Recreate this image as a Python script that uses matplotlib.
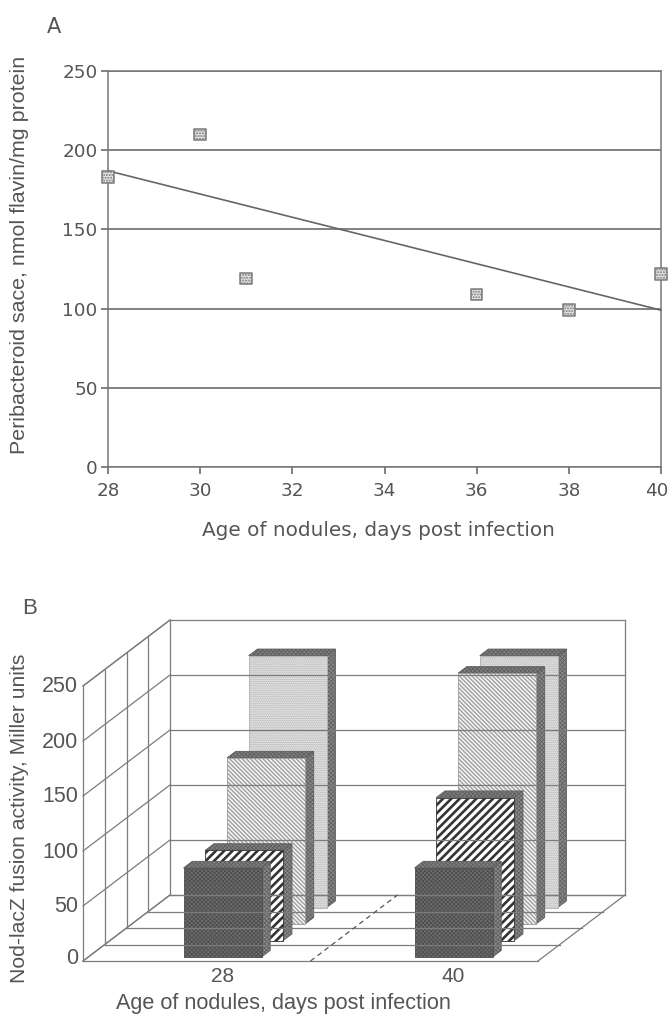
import matplotlib
matplotlib.use('Agg')
import matplotlib.pyplot as plt
from matplotlib.patches import Polygon
from matplotlib.lines import Line2D
from matplotlib.transforms import ScaledTranslation

# ---- data panel A
days_a = [28, 30, 31, 36, 38, 40]
flavin = [183, 210, 119, 109, 99, 122]
trend_x = [28, 40]
trend_y = [187, 99]
ticks_a_x = [28, 30, 32, 34, 36, 38, 40]
ticks_a_y = [0, 50, 100, 150, 200, 250]

# ---- data panel B
ages_b = ['28', '40']
series_28 = [81, 82, 151, 229]
series_40 = [81, 130, 228, 229]
ticks_b = [0, 50, 100, 150, 200, 250]

W, H = 670, 1015
GREY = '#5f5f5f'
TXT = '#555555'
fig = plt.figure(figsize=(W / 100, H / 100), dpi=100, facecolor='white')

# ---------------- Panel A
L, R, T, B = 108, 661, 71, 467
ax = fig.add_axes([L / W, 1 - B / H, (R - L) / W, (B - T) / H])
ax.set_xlim(28, 40)
ax.set_ylim(0, 250)
ax.set_xticks(ticks_a_x)
ax.set_yticks(ticks_a_y)
ax.tick_params(axis='both', length=5, width=1.1, color=GREY, labelcolor=TXT, labelsize=13.2)
ax.tick_params(axis='y', pad=2.5)
ax.tick_params(axis='x', pad=6)
for lab in ax.get_xticklabels() + ax.get_yticklabels():
    lab.set_family('DejaVu Sans')
last = ax.get_xticklabels()[-1]
last.set_transform(last.get_transform() + ScaledTranslation(-4 / 100, 0, fig.dpi_scale_trans))
ax.grid(axis='y', color=GREY, lw=1.1)
ax.set_axisbelow(True)
for s in ax.spines.values():
    s.set_color('#777777')
    s.set_linewidth(1.1)
ax.plot(trend_x, trend_y, color='#666666', lw=1.2, zorder=3, clip_on=False)
ax.scatter(days_a, flavin, marker='s', s=70, facecolor='#e4e4e4', edgecolor='#7a7a7a',
           hatch='......', linewidth=1.1, zorder=4, clip_on=False)
fig.text(378 / W, 1 - 531 / H, 'Age of nodules, days post infection', ha='center', va='center',
         family='DejaVu Sans', fontsize=14.4, color=TXT)
fig.text(20 / W, 1 - 255 / H, 'Peribacteroid sace, nmol flavin/mg protein', rotation=90, ha='center',
         va='center', family='Liberation Sans', fontsize=15.4, color=TXT)
fig.text(54 / W, 1 - 27 / H, 'A', ha='center', va='center', family='DejaVu Sans', fontsize=15, color=TXT)

# ---------------- Panel B: oblique projection of (category pos, depth, value)
bx = fig.add_axes([0, 0, 1, 1])
bx.set_xlim(0, W)
bx.set_ylim(H, 0)
bx.axis('off')
bx.patch.set_alpha(0)

X0, XW = 83, 455        # floor front-left, floor width
Y0 = 961                # floor front baseline
DX, DY = 87, -66        # total depth offset
PX = 1.1                # px per unit
CAT_C = [217.3, 448.3]  # group centre at depth 0
BAR_W = 78
SLOT = 0.25
BAR_D0, BAR_D = 0.06, 0.1


def proj(x, d, v):
    return (x + DX * d, Y0 + DY * d - PX * v)


class HPoly(Polygon):
    def __init__(self, *a, hlw=1.0, **k):
        self.hlw = hlw
        with plt.rc_context({'hatch.linewidth': hlw}):
            super().__init__(*a, **k)

    def draw(self, renderer):
        with plt.rc_context({'hatch.linewidth': self.hlw}):
            super().draw(renderer)


LC = '#7c7c7c'
def ln(p, q, **k):
    k.setdefault('color', LC)
    k.setdefault('lw', 0.9)
    bx.add_line(Line2D([p[0], q[0]], [p[1], q[1]], **k))


XR = X0 + XW
TOP = 250
for v in ticks_b:
    ln(proj(X0, 0, v), proj(X0, 1, v))
    ln(proj(X0, 1, v), proj(XR, 1, v))
    bx.text(78, proj(X0, 0, v)[1] + (-3 if v == 0 else 1), str(v), ha='right', va='center',
            family='Liberation Sans', fontsize=15.5, color=TXT)
for d in [0, .25, .5, .75, 1]:
    ln(proj(X0, d, 0), proj(X0, d, TOP))
    ln(proj(X0, d, 0), proj(XR, d, 0))
ln(proj(X0, 0, TOP), proj(X0, 1, TOP))
ln(proj(X0, 0, 0), proj(X0, 1, 0))
ln(proj(XR, 0, 0), proj(XR, 1, 0))
ln(proj(XR, 1, 0), proj(XR, 1, TOP))
ln(proj(X0 + XW / 2, 0, 0), proj(X0 + XW / 2, 1, 0), ls=(0, (4, 3)), color='#555555')

STYLES = [
    dict(facecolor='#707070', edgecolor='#4f4f4f', hatch='xxxxxxxx', hlw=0.7),
    dict(facecolor='white', edgecolor='#333333', hatch='////', hlw=1.9),
    dict(facecolor='#f2f2f2', edgecolor='#9a9a9a', hatch='\\' * 8, hlw=0.9),
    dict(facecolor='#e6e6e6', edgecolor='#b0b0b0', hatch='.........', hlw=0.7),
]
TOPSTY = dict(facecolor='#808080', edgecolor='#5f5f5f', hatch='xxxxxxxx', hlw=0.6, lw=0.6)
SIDESTY = dict(facecolor='#8a8a8a', edgecolor='#606060', hatch='xxxxxxxx', hlw=0.6, lw=0.6)

for c, vals in enumerate([series_28, series_40]):
    for s in range(3, -1, -1):
        v = vals[s]
        xl = CAT_C[c] - BAR_W / 2
        xr = CAT_C[c] + BAR_W / 2
        d0 = BAR_D0 + s * SLOT
        d1 = d0 + BAR_D
        side = [proj(xr, d0, 0), proj(xr, d1, 0), proj(xr, d1, v), proj(xr, d0, v)]
        top = [proj(xl, d0, v), proj(xr, d0, v), proj(xr, d1, v), proj(xl, d1, v)]
        face = [proj(xl, d0, 0), proj(xr, d0, 0), proj(xr, d0, v), proj(xl, d0, v)]
        bx.add_patch(HPoly(side, closed=True, **SIDESTY))
        bx.add_patch(HPoly(top, closed=True, **TOPSTY))
        bx.add_patch(HPoly(face, closed=True, lw=0.6, **STYLES[s]))

for c, lab in enumerate(ages_b):
    bx.text(proj(CAT_C[c], BAR_D0, 0)[0], 976, lab, ha='center', va='center', family='Liberation Sans',
            fontsize=15, color=TXT)
fig.text(283 / W, 1 - 1003 / H, 'Age of nodules, days post infection', ha='center', va='center',
         family='Liberation Sans', fontsize=15.6, color=TXT)
fig.text(20 / W, 1 - 818 / H, 'Nod-lacZ fusion activity, Miller units', rotation=90, ha='center', va='center',
         family='Liberation Sans', fontsize=15.2, color=TXT)
fig.text(30 / W, 1 - 609 / H, 'B', ha='center', va='center', family='Liberation Sans', fontsize=16, color=TXT)

fig.savefig('out.png', dpi=100, facecolor='white')
